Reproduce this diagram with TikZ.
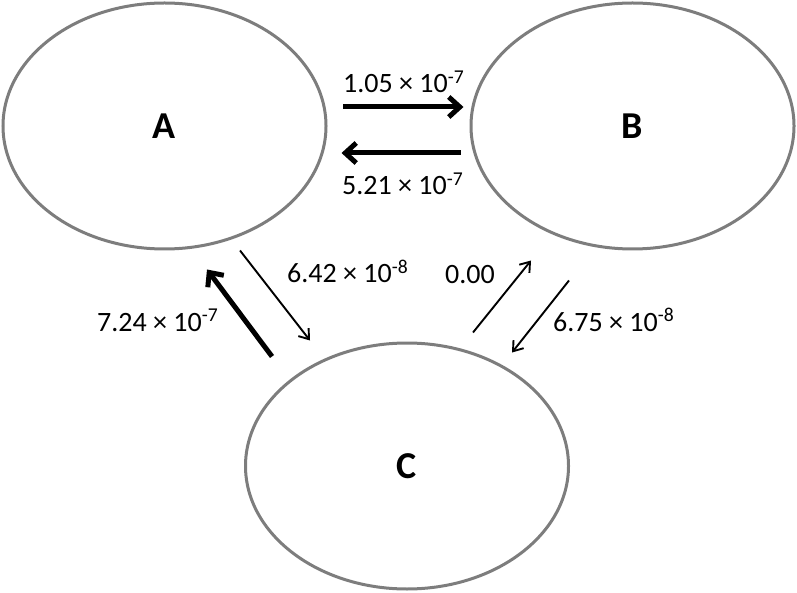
\documentclass[tikz,border=0pt]{standalone}
\usepackage{fontspec}
\setmainfont{Carlito}
\usepackage{xcolor}
\usepackage{tikz}
\usetikzlibrary{arrows.meta,shapes.geometric}
\definecolor{rimgray}{RGB}{125,125,125}

\begin{document}
\begin{tikzpicture}[
  x=1pt, y=-1pt,
  state/.style={ellipse, draw=rimgray, line width=3pt, minimum width=323pt,
                minimum height=246pt, inner sep=0pt,
                font=\fontsize{38}{44}\selectfont\bfseries},
  rate/.style={anchor=base west, inner sep=0pt, font=\fontsize{28}{33}\selectfont},
  fat/.style={-{Straight Barb[length=11pt, width=20pt]}, line width=5pt},
  slim/.style={-{Straight Barb[length=9pt, width=13pt]}, line width=1.9pt},
]
\useasboundingbox (0,0) rectangle (797,593);

%% --- States A, B, C ---
\node[state] (A) at (164.5,126) {A};
\node[state] (B) at (632.5,126) {B};
\node[state] (C) at (407,466)   {C};

%% --- Arrows: A <-> B ---
\draw[fat] ([shift={(15.5,-19)}]A.east) -- ([shift={(-6,-19)}]B.west);
\draw[fat] ([shift={(-9,27)}]B.west)    -- ([shift={(14,27)}]A.east);

%% --- Arrows: A <-> C ---
\draw[slim] ([shift={(75.5,0)}]A.south)  -- ([shift={(-97,-1)}]C.north);
\draw[fat]  ([shift={(-135,15)}]C.north) -- ([shift={(42.5,19)}]A.south);

%% --- Arrows: B <-> C ---
\draw[slim] ([shift={(66,-9)}]C.north)   -- ([shift={(-101.5,10)}]B.south);
\draw[slim] ([shift={(-63.5,30)}]B.south) -- ([shift={(105,11)}]C.north);

%% --- Rates ---
\node[rate] (rAB) at (343,93)  {1.05 × 10\textsuperscript{-7}};
\node[rate] (rBA) at (342,195) {5.21 × 10\textsuperscript{-7}};
\node[rate] (rAC) at (287,283) {6.42 × 10\textsuperscript{-8}};
\node[rate] (rCA) at (97,331)  {7.24 × 10\textsuperscript{-7}};
\node[rate] (rCB) at (445,284) {0.00};
\node[rate] (rBC) at (553,331) {6.75 × 10\textsuperscript{-8}};

\end{tikzpicture}
\end{document}
